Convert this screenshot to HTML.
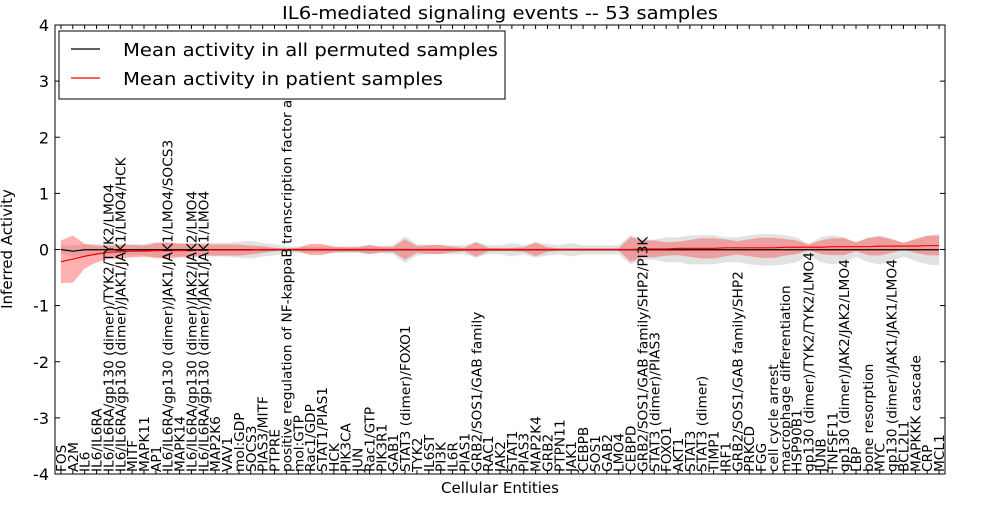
<!DOCTYPE html>
<html><head><meta charset="utf-8"><style>
body{margin:0;background:#fff;overflow:hidden;}
svg text{font-family:"DejaVu Sans","Liberation Sans",sans-serif;}
</style></head><body>
<svg id="chart" width="1000" height="500" xmlns="http://www.w3.org/2000/svg">
<defs><clipPath id="plotclip"><rect x="55" y="25" width="890" height="449"/></clipPath></defs>
</svg>
<script>
const categories=["FOS","A2M","IL6","IL6/IL6RA","IL6/IL6RA/gp130 (dimer)/TYK2/TYK2/LMO4","IL6/IL6RA/gp130 (dimer)/JAK1/JAK1/LMO4/HCK","MITF","MAPK11","AP1","IL6/IL6RA/gp130 (dimer)/JAK1/JAK1/LMO4/SOCS3","MAPK14","IL6/IL6RA/gp130 (dimer)/JAK2/JAK2/LMO4","IL6/IL6RA/gp130 (dimer)/JAK1/JAK1/LMO4","MAP2K6","VAV1","mol:GDP","SOCS3","PIAS3/MITF","PTPRE","positive regulation of NF-kappaB transcription factor activity","mol:GTP","Rac1/GDP","STAT1/PIAS1","HCK","PIK3CA","JUN","Rac1/GTP","PIK3R1","GAB1","STAT3 (dimer)/FOXO1","TYK2","IL6ST","PI3K","IL6R","PIAS1","GRB2/SOS1/GAB family","RAC1","JAK2","STAT1","PIAS3","MAP2K4","GRB2","PTPN11","JAK1","CEBPB","SOS1","GAB2","LMO4","CEBPD","GRB2/SOS1/GAB family/SHP2/PI3K","STAT3 (dimer)/PIAS3","FOXO1","AKT1","STAT3","STAT3 (dimer)","TIMP1","IRF1","GRB2/SOS1/GAB family/SHP2","PRKCD","FGG","cell cycle arrest","macrophage differentiation","HSP90B1","gp130 (dimer)/TYK2/TYK2/LMO4","JUNB","TNFSF11","gp130 (dimer)/JAK2/JAK2/LMO4","LBP","bone resorption","MYC","gp130 (dimer)/JAK1/JAK1/LMO4","BCL2L1","MAPKKK cascade","CRP","MCL1"];
const redMean=[-0.22,-0.17,-0.12,-0.08,-0.05,-0.04,-0.03,-0.03,-0.02,-0.02,-0.02,-0.02,-0.01,-0.01,-0.01,-0.01,-0.01,
0,0,0,0,0,0,0,0,0,0,0,0,0,0,0,0,0,0,0,0,0,0,0,0,0,0,0,0,0,0,0,0,
0.01,0.01,0.01,0.02,0.02,0.02,0.02,0.03,0.03,0.03,0.03,0.03,0.04,0.04,0.04,0.04,0.05,0.05,0.05,0.05,0.06,0.06,0.06,0.06,0.07,0.07];
const redBand=[0.38,0.42,0.22,0.15,0.12,0.12,0.11,0.1,0.13,0.15,
0.12,0.12,0.1,0.1,0.1,0.1,0.08,0.06,0.03,0.02,
0.03,0.1,0.1,0.05,0.04,0.04,0.08,0.05,0.05,0.18,
0.06,0.08,0.08,0.05,0.03,0.13,0.03,0.03,0.03,0.04,
0.12,0.04,0.02,0.02,0.02,0.02,0.02,0.02,0.22,0.15,
0.15,0.12,0.12,0.15,0.18,0.18,0.15,0.12,0.15,0.18,
0.18,0.15,0.12,0.05,0.12,0.15,0.15,0.08,0.15,0.17,
0.12,0.06,0.12,0.17,0.18];
const grayBand=[0.08,0.1,0.1,0.1,0.1,0.1,0.1,0.1,0.14,0.12,
0.12,0.12,0.12,0.12,0.12,0.14,0.16,0.12,0.1,0.06,
0.06,0.06,0.06,0.06,0.06,0.06,0.08,0.06,0.08,0.24,
0.1,0.08,0.08,0.08,0.08,0.14,0.08,0.08,0.12,0.08,
0.14,0.1,0.08,0.12,0.08,0.08,0.08,0.08,0.26,0.18,
0.18,0.22,0.22,0.26,0.26,0.26,0.22,0.22,0.26,0.28,
0.28,0.26,0.22,0.1,0.22,0.26,0.22,0.12,0.22,0.26,
0.2,0.12,0.2,0.26,0.28];
const blackMean=categories.map((c,i)=>i===1?-0.03:(i===0?0:-0.005));
const yTicks=[-4,-3,-2,-1,0,1,2,3,4];

const L=55,R=945,T=25,B=474;
const n=categories.length;
function xs(i){return L+(i+0.5)*(R-L)/n;}
function ys(v){return T+(4-v)*(B-T)/8;}
const svg=document.getElementById('chart');
const NS="http://www.w3.org/2000/svg";
function mk(tag,attrs,parent){const e=document.createElementNS(NS,tag);for(const k in attrs)e.setAttribute(k,attrs[k]);(parent||svg).appendChild(e);return e;}

function band(mean,half,fill,name){
  let up=[],lo=[];
  for(let i=0;i<n;i++){up.push(xs(i)+','+ys(mean[i]+half[i]));lo.unshift(xs(i)+','+ys(mean[i]-half[i]));}
  const p=mk('polygon',{points:up.concat(lo).join(' '),fill:fill});
  
  
}
band(blackMean,grayBand,'rgba(190,190,190,0.45)','permuted-band');
band(redMean,redBand,'rgba(255,60,60,0.4)','patient-band');

function line(vals,color,name){
  const pts=vals.map((v,i)=>xs(i)+','+ys(v)).join(' ');
  const p=mk('polyline',{points:pts,fill:'none',stroke:color,'stroke-width':1.2});
  
  
}
line(blackMean,'#000','permuted-mean-line');
line(redMean,'#ff0000','patient-mean-line');

yTicks.forEach(v=>{
  const y=ys(v);
  mk('line',{x1:L,x2:L+5,y1:y,y2:y,stroke:'#000'});
  mk('line',{x1:R,x2:R-5,y1:y,y2:y,stroke:'#000'});
  const t=mk('text',{x:L-6,y:y+6,'text-anchor':'end','font-size':16});
  t.textContent=v;
  
  
});
const lblG=mk('g',{'clip-path':'url(#plotclip)'});


categories.forEach((c,i)=>{
  const x=xs(i);
  mk('line',{x1:x,x2:x,y1:B,y2:B-4,stroke:'#000'});
  mk('line',{x1:x,x2:x,y1:T,y2:T+4,stroke:'#000'});
  const t=mk('text',{x:0,y:0,'text-anchor':'start','font-size':13.7,transform:'translate('+(x+5)+','+(B-2)+') rotate(-90)'},lblG);
  t.textContent=c;
  
  
});
const fr=mk('rect',{x:L,y:T,width:R-L,height:B-T,fill:'none',stroke:'#000','stroke-width':1});



let t=mk('text',{x:500,y:19,'text-anchor':'middle','font-size':18,textLength:436,lengthAdjust:'spacingAndGlyphs'});
t.textContent='IL6-mediated signaling events -- 53 samples';


t=mk('text',{x:500,y:493,'text-anchor':'middle','font-size':15});
t.textContent='Cellular Entities';


t=mk('text',{x:0,y:0,'text-anchor':'middle','font-size':15,transform:'translate(12,249) rotate(-90)'});
t.textContent='Inferred Activity';



const lg=mk('g',{});


mk('rect',{x:59,y:31,width:446,height:68,fill:'#fff',stroke:'#000'},lg);
[['#000','Mean activity in all permuted samples',49,375],['#ff0000','Mean activity in patient samples',78,320]].forEach(e=>{
  const g=mk('g',{},lg);
  
  
  mk('line',{x1:71,x2:100,y1:e[2],y2:e[2],stroke:e[0],'stroke-width':1.2},g);
  const tt=mk('text',{x:123,y:e[2]+7,'font-size':18,textLength:e[3],lengthAdjust:'spacingAndGlyphs'},g);
  tt.textContent=e[1];
});
</script>
</body></html>
